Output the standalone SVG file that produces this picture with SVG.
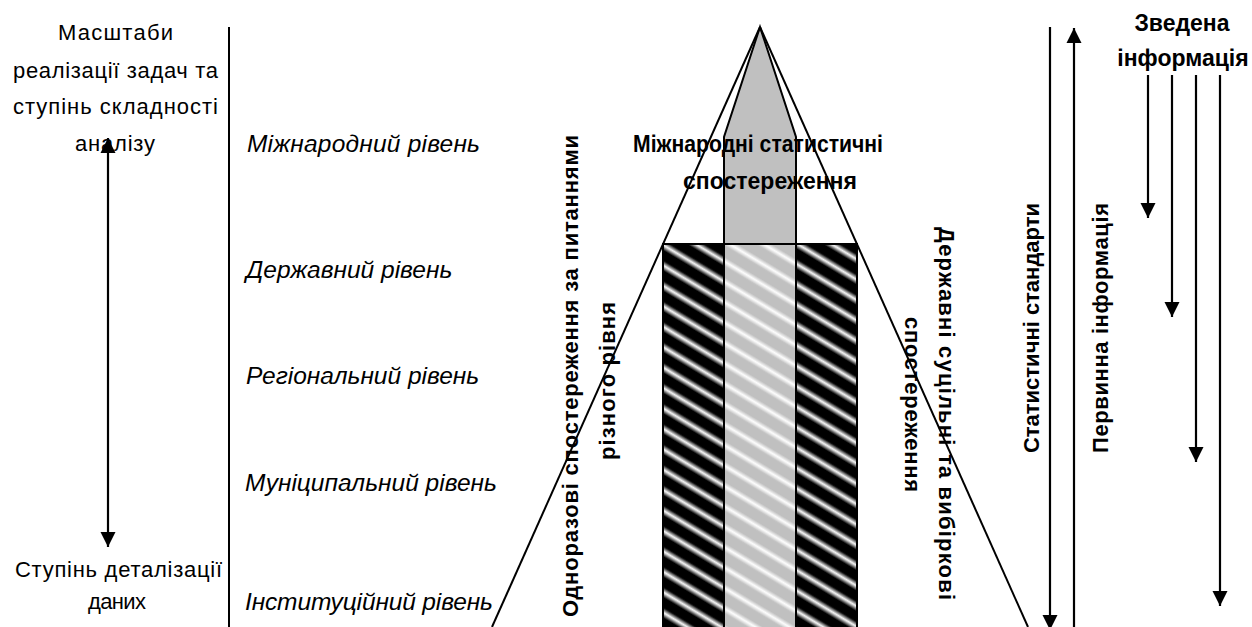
<svg xmlns="http://www.w3.org/2000/svg" width="1252" height="627" viewBox="0 0 1252 627">
<style>
.t{font-family:"Liberation Sans",Arial,sans-serif;fill:#000}
.n{font-size:22px}
.i{font-size:24.5px;font-style:italic}
.b{font-size:23px;font-weight:bold}
.v{font-size:22px;font-weight:bold}
.ln{stroke:#000;stroke-width:2;fill:none}
.ar{stroke:#000;stroke-width:2.2;fill:none;marker-end:url(#ah)}
</style>
<defs>
<marker id="ah" markerUnits="userSpaceOnUse" markerWidth="16" markerHeight="16" viewBox="0 0 16 16" refX="15" refY="8" orient="auto-start-reverse">
<path d="M0,0.5 L15,8 L0,15.5 z" fill="#000"/>
</marker>
<linearGradient id="gB" x1="0" y1="0" x2="0" y2="1">
<stop offset="0" stop-color="#000"/>
<stop offset="0.5" stop-color="#fff"/>
<stop offset="1" stop-color="#000"/>
</linearGradient>
<linearGradient id="gG" x1="0" y1="0" x2="0" y2="1">
<stop offset="0" stop-color="#c0c0c0"/>
<stop offset="0.5" stop-color="#fff"/>
<stop offset="1" stop-color="#c0c0c0"/>
</linearGradient>
<pattern id="hatchDark" patternUnits="userSpaceOnUse" width="40" height="17.5" patternTransform="rotate(31)">
<rect width="40" height="17.5" fill="#000"/>
<rect y="4" width="40" height="9" fill="url(#gB)"/>
</pattern>
<pattern id="hatchGray" patternUnits="userSpaceOnUse" width="40" height="17.5" patternTransform="rotate(31)">
<rect width="40" height="17.5" fill="#c0c0c0"/>
<rect y="4.5" width="40" height="8" fill="url(#gG)"/>
</pattern>
</defs>

<g id="left-scale">
<line class="ln" x1="229" y1="27" x2="229" y2="627"/>
<text class="t n" x="58" y="40" textLength="115">Масштаби</text>
<text class="t n" x="13" y="78" textLength="205">реалізації задач та</text>
<text class="t n" x="13" y="114" textLength="205">ступінь складності</text>
<text class="t n" x="75" y="151" textLength="80">аналізу</text>
<text class="t n" x="15" y="577" textLength="207">Ступінь деталізації</text>
<text class="t n" x="88" y="609" textLength="58">даних</text>
</g>

<g id="levels">
<text class="t i" x="247" y="152" textLength="233">Міжнародний рівень</text>
<text class="t i" x="246" y="278">Державний рівень</text>
<text class="t i" x="246" y="384">Регіональний рівень</text>
<text class="t i" x="245" y="491">Муніципальний рівень</text>
<text class="t i" x="245" y="610" textLength="248">Інституційний рівень</text>
</g>

<g id="pyramid">
<path d="M760,27 L724,137 L724,244 L796,244 L796,137 Z" fill="#c0c0c0" stroke="#000" stroke-width="2"/>
<line class="ln" x1="760" y1="27" x2="492" y2="627"/>
<line class="ln" x1="760" y1="27" x2="1028" y2="627"/>
</g>

<g id="bars">
<rect x="663" y="244" width="61" height="390" fill="url(#hatchDark)" stroke="#000" stroke-width="2"/>
<rect x="724" y="244" width="72" height="390" fill="url(#hatchGray)" stroke="#000" stroke-width="2"/>
<rect x="796" y="244" width="61" height="390" fill="url(#hatchDark)" stroke="#000" stroke-width="2"/>
</g>

<g id="intl-label">
<text class="t b" x="633" y="152" textLength="250" lengthAdjust="spacingAndGlyphs">Міжнародні статистичні</text>
<text class="t b" x="770" y="189" text-anchor="middle">спостереження</text>
</g>

<g id="one-time-label">
<text class="t v" transform="translate(578,617) rotate(-90)" textLength="482">Одноразові спостереження за питаннями</text>
<text class="t v" transform="translate(615,460) rotate(-90)" textLength="158">різного рівня</text>
</g>

<g id="state-label">
<text class="t v" transform="translate(939,227) rotate(90)" textLength="373">Державні суцільні та вибіркові</text>
<text class="t v" transform="translate(905,317) rotate(90)" textLength="175">спостереження</text>
</g>

<g id="standards-label">
<text class="t v" transform="translate(1039,453) rotate(-90)" textLength="250">Статистичні стандарти</text>
</g>
<g id="primary-label">
<text class="t v" transform="translate(1108,453) rotate(-90)" textLength="250">Первинна інформація</text>
</g>
<g id="summary-label">
<text class="t b" x="1182" y="31" text-anchor="middle">Зведена</text>
<text class="t b" x="1183" y="66" text-anchor="middle">інформація</text>
</g>

<g id="connectors">
<line class="ar" x1="108" y1="300" x2="108" y2="138"/>
<line class="ar" x1="108" y1="300" x2="108" y2="547"/>
<line class="ar" x1="1050" y1="27" x2="1050" y2="630"/>
<line class="ar" x1="1074" y1="627" x2="1074" y2="28"/>
<line class="ar" x1="1148" y1="75" x2="1148" y2="218"/>
<line class="ar" x1="1172" y1="75" x2="1172" y2="317"/>
<line class="ar" x1="1196" y1="75" x2="1196" y2="462"/>
<line class="ar" x1="1220" y1="75" x2="1220" y2="606"/>
</g>
</svg>
